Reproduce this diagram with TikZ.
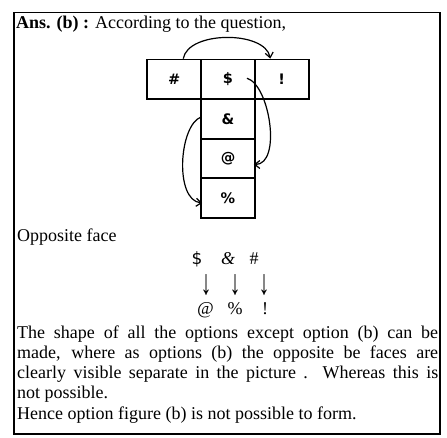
\documentclass[tikz,border=0pt]{standalone}
\usepackage{fontspec}
\usepackage{graphicx}
\setmainfont{Liberation Serif}
\newfontfamily\djv{DejaVu Sans}
\usetikzlibrary{calc,arrows.meta}
\begin{document}
\begin{tikzpicture}[x=1pt,y=-1pt,
  cell/.style={draw,line width=1.8pt,minimum width=54pt,minimum height=39.5pt,inner sep=0pt,
    font=\djv\bfseries\fontsize{14.5}{14.5}\selectfont},
  curv/.style={line width=1.2pt,-{Straight Barb[length=5pt,width=8pt]}},
  txt/.style={inner sep=0pt,anchor=base west,font=\fontsize{18}{20}\selectfont},
  sym/.style={inner sep=0pt,anchor=base,font=\fontsize{18}{20}\selectfont},
  arr/.style={inner sep=0pt,anchor=center,font=\fontsize{10}{10}\selectfont}
]
\useasboundingbox (0,0) rectangle (447,438);
\draw[line width=1.3pt] (14,12.7) rectangle (440,434);

\node[txt] (title) at (16,29) {\textbf{Ans. (b) :} According to the\ question,};

% net
\node[cell] (hash) at (174.25,79.25) {\#};
\node[cell] (dol)  at (228,79.25) {\$};
\node[cell] (excl) at (281.75,79.25) {!};
\node[cell] (amp)  at (228,119) {\&};
\node[cell] (at)   at (228,158.5) {@};
\node[cell] (pct)  at (228,198) {\%};

\draw[curv] ($(hash.north)+(9,0)$) .. controls +(5,-28) and +(-5,-28) .. ($(excl.north)+(-11.5,0)$);
\draw[curv] ($(dol.center)+(19,-1)$) .. controls +(23,7) and +(28,0) .. ($(at.east)+(-2,6)$);
\draw[curv] ($(amp.west)+(1,-2)$) .. controls +(-22,8) and +(-28,-3) .. ($(pct.west)+(2,5)$);

\node[txt] (opp) at (17,242) {Opposite face};

\node[sym,font=\djv\fontsize{17}{20}\selectfont] (s1) at (197,265) {\$};
\node[sym] (s2) at (228,265) {\textit{\&}};
\node[sym] (s3) at (254,265) {\#};
\node[arr] (a1) at (206,285.5) {\resizebox*{11pt}{21pt}{\fontsize{20}{20}\selectfont ↓}};
\node[arr] (a2) at (235,285.5) {\resizebox*{11pt}{21pt}{\fontsize{20}{20}\selectfont ↓}};
\node[arr] (a3) at (264,285.5) {\resizebox*{11pt}{21pt}{\fontsize{20}{20}\selectfont ↓}};
\node[sym] (b1) at (205.5,315) {\textit{@}};
\node[sym] (b2) at (235,315) {\%};
\node[sym] (b3) at (265,315) {!};

\node[txt] (l1) at (17,338) {\makebox[421pt][s]{The shape of all the options except option (b) can be}};
\node[txt] (l2) at (17,358) {\makebox[421pt][s]{made, where as options (b) the opposite be faces are}};
\node[txt] (l3) at (17,378) {\makebox[421pt][s]{clearly visible separate in the picture . Whereas this is}};
\node[txt] (l4) at (17,398) {not possible.};
\node[txt] (l5) at (17,419) {Hence option figure (b) is not possible to form.};
\end{tikzpicture}
\end{document}
